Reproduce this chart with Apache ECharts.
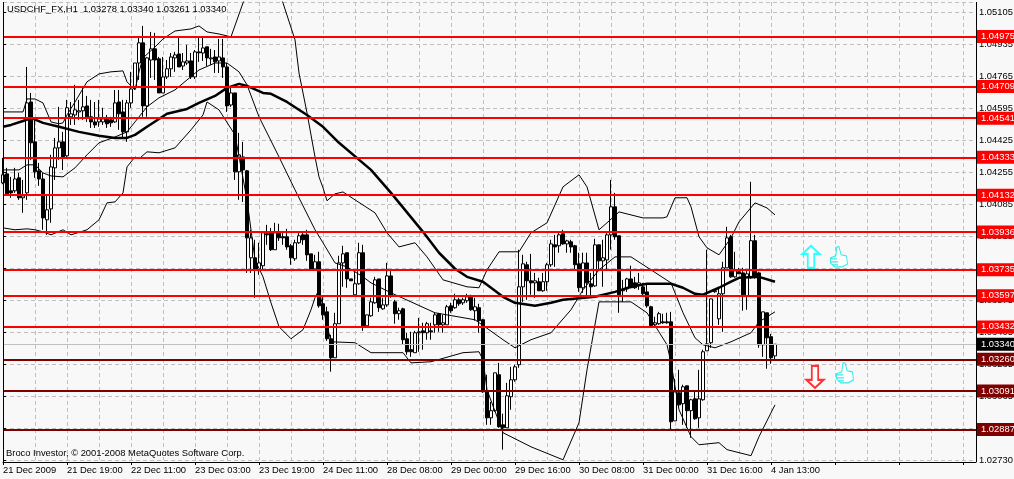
<!DOCTYPE html>
<html><head><meta charset="utf-8">
<style>html,body{margin:0;padding:0;background:#f8f8f8}#c{width:1014px;height:479px}</style>
<script src="https://cdn.jsdelivr.net/npm/echarts@6/dist/echarts.min.js"></script>
</head><body><div id="c"></div>
<script>
// prices are stored in 1/100000 units: [open, close, low, high]
const candles=[
[104197,104240,104190,104330],[104245,104139,104133,104277],[104155,104144,104118,104229],[104155,104218,104144,104277],
[104224,104118,104107,104250],[104118,104128,104038,104213],[104144,104622,104107,104813],[104627,104410,104319,104675],
[104415,104256,104224,104542],[104261,104218,104181,104303],[104218,104011,103948,104250],[104001,104054,103921,104133],
[104059,104282,103985,104346],[104277,104383,104213,104436],[104383,104415,104319,104601],[104415,104335,104266,104468],
[104341,104596,104335,104638],[104548,104564,104505,104627],[104558,104585,104505,104718],[104574,104580,104532,104638],
[104580,104601,104532,104707],[104606,104548,104521,104659],[104548,104521,104489,104638],[104521,104505,104489,104627],
[104521,104537,104495,104638],[104521,104537,104505,104596],[104537,104511,104489,104558],[104532,104516,104495,104548],
[104521,104622,104516,104691],[104627,104564,104479,104691],[104574,104468,104436,104638],[104468,104622,104415,104638],
[104622,104696,104596,104787],[104702,104834,104691,104834],[104834,104941,104744,104972],[104941,104606,104548,105031],
[104606,104861,104548,104866],[104850,104909,104755,104999],[104909,104850,104744,104994],[104856,104675,104675,104866],
[104675,104760,104675,104866],[104760,104803,104749,104850],[104803,104866,104760,104887],[104861,104877,104787,104893],
[104882,104813,104813,104967],[104818,104840,104797,104887],[104834,104845,104824,104930],[104845,104760,104749,104887],
[104760,104893,104749,104903],[104893,104888,104840,104972],[104887,104914,104845,104972],[104920,104861,104818,104920],
[104856,104861,104824,104909],[104866,104840,104781,104903],[104845,104866,104781,104962],[104861,104813,104755,104962],
[104813,104606,104574,104834],[104611,104675,104601,104707],[104675,104256,104213,104675],[104256,104346,104107,104463],
[104335,104266,104096,104415],[104261,103905,103719,104266],[103799,103905,103719,103948],[103799,103735,103587,103895],
[103735,103772,103709,103879],[103757,103932,103735,103937],[103927,103921,103868,103974],[103937,103842,103836,103958],
[103842,103932,103842,103985],[103937,103905,103889,103980],[103911,103905,103868,103937],[103911,103857,103842,103953],
[103863,103799,103762,103873],[103794,103879,103783,103895],[103879,103916,103873,103937],[103921,103895,103868,103937],
[103921,103815,103783,103948],[103820,103735,103735,103820],[103740,103778,103735,103815],[103778,103544,103534,103831],
[103555,103496,103470,103592],[103512,103369,103358,103539],[103369,103268,103194,103390],[103268,103449,103268,103507],
[103449,103772,103449,103810],[103772,103820,103645,103863],[103826,103687,103640,103826],[103687,103677,103677,103687],
[103603,103661,103603,103735],[103661,103826,103656,103879],[103826,103438,103411,103868],[103438,103496,103433,103496],
[103491,103565,103486,103587],[103560,103682,103555,103698],[103687,103534,103512,103687],[103528,103549,103523,103587],
[103549,103703,103539,103772],[103703,103597,103587,103735],[103565,103502,103449,103576],[103502,103518,103470,103534],
[103528,103364,103337,103534],[103369,103300,103284,103401],[103311,103300,103273,103406],[103295,103401,103295,103411],
[103401,103406,103300,103480],[103411,103401,103311,103454],[103401,103449,103364,103459],[103411,103406,103364,103454],
[103443,103496,103401,103507],[103502,103443,103406,103507],[103443,103454,103401,103496],[103443,103539,103443,103549],
[103544,103518,103507,103560],[103534,103576,103528,103608],[103576,103555,103544,103587],[103560,103576,103549,103587],
[103571,103592,103560,103608],[103592,103523,103518,103603],[103518,103539,103465,103587],[103534,103465,103401,103555],
[103470,103087,103082,103475],[103087,102949,102912,103178],[102949,102987,102912,103034],[102987,103188,102981,103188],
[103178,102902,102896,103241],[102912,102896,102780,102971],[102896,103066,102896,103135],[103061,103151,102992,103220],
[103151,103220,103141,103231],[103231,103645,103215,103842],[103645,103767,103565,103815],[103762,103677,103576,103778],
[103677,103666,103603,103820],[103666,103677,103587,103719],[103672,103624,103624,103693],[103624,103672,103618,103719],
[103672,103762,103624,103772],[103762,103873,103751,103895],[103868,103857,103751,103921],[103863,103921,103826,103932],
[103927,103873,103868,103948],[103873,103889,103826,103895],[103884,103857,103826,103895],[103863,103762,103735,103868],
[103767,103640,103618,103826],[103640,103772,103613,103826],[103772,103666,103587,103826],[103661,103645,103597,103719],
[103650,103868,103645,103900],[103868,103783,103735,103868],[103783,103799,103645,103895],[103788,103921,103735,103932],
[103921,104070,103842,104213],[104070,103911,103895,104144],[103916,103603,103507,103916],[103624,103629,103565,103682],
[103634,103687,103618,103693],[103687,103640,103640,103757],[103666,103640,103634,103698],[103656,103666,103629,103719],
[103645,103608,103592,103666],[103618,103544,103534,103656],[103539,103438,103433,103544],[103443,103454,103438,103486],
[103449,103502,103443,103512],[103459,103454,103449,103502],[103459,103454,103449,103507],[103459,102928,102886,103512],
[102933,103087,102933,103157],[103082,103018,103008,103204],[103024,103114,102912,103125],[103119,102987,102896,103119],
[102987,103045,102843,103050],[103050,102944,102939,103087],[102949,103050,102896,103204],[103045,103300,103040,103311],
[103305,103342,103305,103842],[103348,103581,103321,103581],[103619,103624,103613,103629],[103475,103608,103443,103645],
[103608,103746,103406,103778],[103746,103905,103746,103964],[103911,103698,103693,103921],[103698,103730,103693,103831],
[103725,103714,103714,103746],[103719,103603,103518,103746],[103597,103714,103523,103735],[103693,103890,103688,104203],
[103890,103698,103688,103921],[103719,103337,103321,103725],[103337,103512,103273,103512],[103507,103374,103210,103507],
[103380,103268,103236,103395],[103278,103340,103261,103340]];

// [bar index, price] readings for the indicators
const maLine=[[0,104495],[2,104505],[5,104526],[7,104542],[10,104516],[14,104495],[19,104468],[24,104447],[28,104436],[31,104436],[33,104452],[36,104495],[41,104564],[46,104590],[49,104622],[53,104659],[56,104702],[59,104723],[61,104712],[65,104675],[67,104670],[71,104627],[76,104558],[80,104495],[84,104410],[92,104266],[97,104144],[105,103937],[109,103826],[113,103741],[116,103698],[120,103672],[125,103592],[128,103560],[133,103544],[137,103560],[140,103576],[148,103592],[153,103618],[157,103645],[161,103661],[167,103661],[170,103640],[173,103608],[175,103603],[179,103640],[182,103672],[184,103693],[189,103698],[193,103672]];
const bandUpper=[[0,104574],[5,104574],[6,104643],[8,104643],[10,104622],[12,104521],[14,104511],[15,104516],[16,104558],[18,104627],[21,104734],[24,104776],[27,104787],[30,104792],[31,104734],[33,104691],[34,104787],[35,104861],[38,104919],[40,104962],[43,105004],[47,105015],[49,105031],[51,104999],[54,104988],[57,104973],[60,105153],[65,105381],[70,105153],[73,104957],[74,104781],[76,104569],[78,104335],[79,104229],[80,104171],[81,104102],[83,104139],[84,104144],[85,104149],[88,104107],[93,104038],[96,103932],[99,103857],[103,103879],[106,103804],[110,103682],[116,103645],[119,103640],[121,103735],[124,103831],[129,103831],[132,103932],[136,103985],[140,104176],[144,104240],[146,104176],[149,103948],[151,103985],[154,104043],[160,104011],[165,104011],[166,104017],[168,104118],[171,104118],[172,104070],[174,103911],[176,103852],[179,103815],[182,103905],[184,103990],[188,104091],[191,104064],[193,104027]];
const bandMiddle=[[0,104266],[4,104266],[6,104293],[8,104293],[10,104250],[12,104234],[15,104229],[18,104277],[21,104346],[24,104410],[28,104441],[31,104468],[33,104521],[36,104601],[39,104649],[43,104691],[46,104744],[49,104797],[53,104834],[56,104834],[59,104787],[61,104718],[64,104548],[69,104335],[73,104160],[78,103948],[80,103879],[83,103772],[86,103751],[90,103698],[92,103666],[97,103613],[102,103565],[108,103507],[118,103470],[125,103364],[128,103321],[132,103364],[137,103401],[142,103523],[145,103629],[149,103735],[153,103804],[157,103804],[162,103735],[167,103666],[168,103613],[170,103507],[173,103374],[175,103337],[178,103321],[182,103353],[187,103401],[189,103459],[193,103512]];
const bandLower=[[0,103958],[3,103948],[6,103953],[8,103948],[10,103937],[12,103921],[15,103948],[17,103921],[21,103948],[24,104001],[26,104091],[28,104096],[30,104144],[31,104282],[33,104335],[34,104325],[36,104362],[39,104357],[43,104383],[47,104479],[50,104558],[51,104627],[54,104585],[58,104452],[61,104107],[63,103788],[65,103698],[67,103560],[69,103433],[72,103369],[75,103417],[77,103523],[78,103587],[79,103629],[81,103443],[82,103353],[88,103348],[92,103295],[100,103295],[102,103241],[107,103247],[115,103295],[119,103300],[120,103257],[121,103098],[125,102870],[132,102795],[140,102726],[144,102923],[146,103204],[149,103565],[153,103565],[157,103565],[161,103507],[166,103337],[167,103241],[169,102992],[172,102849],[174,102806],[179,102817],[181,102780],[187,102748],[189,102849],[193,103018]];

const resistanceLevels=[1.04975,1.04709,1.04541,1.04333,1.04132,1.03936,1.03735,1.03597,1.03432];
const supportLevels=[1.03260,1.03091,1.02887];
const lastPrice=1.03340;
const xTickLabels=['21 Dec 2009','21 Dec 19:00','22 Dec 11:00','23 Dec 03:00','23 Dec 19:00','24 Dec 11:00','28 Dec 08:00','29 Dec 00:00','29 Dec 16:00','30 Dec 08:00','31 Dec 00:00','31 Dec 16:00','4 Jan 13:00'];
const upMarks=[[202,1.03804]], downMarks=[[203,1.03167]], thumbMarks=[[209,1.03804],[210.5,1.03188]];

const FONT='"Liberation Sans",sans-serif';
const FS=9.4;
const scale=a=>a.map(p=>[p[0],p[1]/1e5]);
const thin=(name,d)=>({name,type:'line',data:scale(d),symbol:'none',z:3,lineStyle:{color:'#000',width:1},animation:false,silent:true});
const levelItem=(v,color,width)=>({yAxis:v,lineStyle:{color,width,type:'solid'},label:{show:true,position:'end',distance:1,formatter:v.toFixed(5),color:'#fff',backgroundColor:color,fontFamily:FONT,fontSize:FS,padding:[2,8,1,4],lineHeight:10}});
const ARROW='path://M8 0L16 8L11 8L11 22L5 22L5 8L0 8Z';
const THUMB='path://M6 0L8 0L10 8L15 9L16 17L11 20L4 20L0 16L0 11L5 9ZM0 12L6 12M0 15L7 15M2 18L7 18';

const chart=echarts.init(document.getElementById('c'),null,{renderer:'canvas'});
chart.setOption({
 animation:false,backgroundColor:'#f8f8f8',
 title:[
  {text:'USDCHF_FX,H1  1.03278 1.03340 1.03261 1.03340',left:7,top:5,padding:0,textStyle:{fontFamily:FONT,fontWeight:'normal',fontSize:FS,color:'#000'}},
  {text:'Broco Investor, © 2001-2008 MetaQuotes Software Corp.',left:6,top:449,padding:0,textStyle:{fontFamily:FONT,fontWeight:'normal',fontSize:FS,color:'#000'}}
 ],
 grid:{left:3,right:38,top:2,bottom:19,containLabel:false,outerBoundsMode:'none'},
 xAxis:{type:'value',min:0,max:243.25,interval:16,offset:2,
  axisLine:{lineStyle:{color:'#000',width:1}},
  axisTick:{show:true,length:3,lineStyle:{color:'#000'}},
  minorTick:{show:false,splitNumber:2},
  axisLabel:{show:true,align:'left',margin:4,showMaxLabel:false,hideOverlap:false,color:'#000',fontFamily:FONT,fontSize:FS,
    formatter:v=>xTickLabels[v/16]||''},
  splitLine:{show:true,lineStyle:{color:'#c0c0c0',type:[4,3],width:1}},
  minorSplitLine:{show:true,lineStyle:{color:'#c0c0c0',type:[4,3],width:1}}},
 yAxis:{type:'value',position:'right',min:1.02725,max:1.05158,interval:0.0017,scale:true,
  axisLine:{show:false},
  axisTick:{show:true,length:3,lineStyle:{color:'#000'}},
  axisLabel:{margin:3,color:'#000',fontFamily:FONT,fontSize:FS,showMaxLabel:false,hideOverlap:false,
    formatter:v=>v<1.0273?'1.02730':(v>1.0511?'':v.toFixed(5))},
  splitLine:{show:true,lineStyle:{color:'#c0c0c0',type:[4,3],width:1}}},
 graphic:[
  {type:'line',shape:{x1:3.5,y1:2,x2:3.5,y2:462},style:{stroke:'#000',lineWidth:1},silent:true,z:20},
  {type:'line',shape:{x1:976.5,y1:2,x2:976.5,y2:462},style:{stroke:'#000',lineWidth:1},silent:true,z:20}
 ],
 series:[
  {name:'USDCHF',type:'candlestick',z:2,barWidth:3,animation:false,silent:true,
   encode:{x:0,y:[1,2,3,4]},
   data:candles.map((r,i)=>[i,r[0]/1e5,r[1]/1e5,r[2]/1e5,r[3]/1e5]),
   itemStyle:{color:'#fff',color0:'#000',borderColor:'#000',borderColor0:'#000',borderWidth:1}},
  thin('BB upper',bandUpper),thin('BB middle',bandMiddle),thin('BB lower',bandLower),
  {name:'MA',type:'line',data:scale(maLine),symbol:'none',z:4,lineStyle:{color:'#000',width:2.5},animation:false,silent:true},
  {name:'levels',type:'line',data:[],z:6,animation:false,silent:true,
   markLine:{silent:true,symbol:'none',animation:false,precision:5,
    data:[levelItem(lastPrice,'#000000',1)].map(d=>{d.lineStyle.color='#c0c0c0';return d})
      .concat(resistanceLevels.map(v=>levelItem(v,'#ff0000',2)))
      .concat(supportLevels.map(v=>levelItem(v,'#800000',2)))}},
  {name:'up',type:'scatter',data:upMarks,symbol:ARROW,symbolSize:[17,22],symbolKeepAspect:false,z:7,silent:true,animation:false,
   itemStyle:{color:'#ffffff',borderColor:'#00ffff',borderWidth:2}},
  {name:'down',type:'scatter',data:downMarks,symbol:ARROW,symbolRotate:180,symbolSize:[17,22],z:7,silent:true,animation:false,
   itemStyle:{color:'#ffffff',borderColor:'#ff0000',borderWidth:2}},
  {name:'thumb',type:'scatter',data:thumbMarks,symbol:THUMB,symbolSize:[17,20],z:7,silent:true,animation:false,
   itemStyle:{color:'#ffffff',borderColor:'#00e5e5',borderWidth:1}}
 ]
});
</script></body></html>
